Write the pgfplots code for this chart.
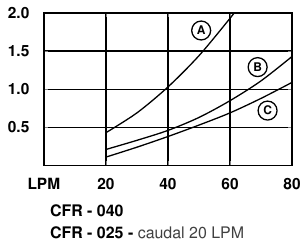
\documentclass[border=0pt]{standalone}
\usepackage[T1]{fontenc}
\usepackage{helvet}
\renewcommand{\familydefault}{\sfdefault}
\usepackage{pgfplots}
\pgfplotsset{compat=1.18}
\begin{document}
\begin{tikzpicture}
\path (-44pt,-76pt) rectangle (260pt,166pt);
\begin{axis}[
  scale only axis,
  width=249pt, height=153pt,
  xmin=0, xmax=80, ymin=0, ymax=2,
  xtick={0,20,40,60,80},
  xticklabels={LPM,20,40,60,80},
  ytick={0.5,1.0,1.5,2.0},
  yticklabels={0.5,1.0,1.5,2.0},
  grid=major,
  major grid style={black, line width=1.4pt},
  tick label style={font=\fontsize{15.5}{17}\selectfont\bfseries},
  xticklabel style={anchor=center, yshift=-19pt},
  yticklabel style={anchor=east, xshift=-11pt},
]
\addplot[black, line width=1.3pt, smooth] coordinates {
  (20,0.43) (30,0.69) (40,1.03) (50,1.44) (60,1.93) (62,2.04)};
\addplot[black, line width=1.3pt, smooth] coordinates {
  (20,0.21) (30,0.33) (40,0.46) (50,0.63) (60,0.85) (70,1.11) (80,1.43)};
\addplot[black, line width=1.3pt, smooth] coordinates {
  (20,0.11) (30,0.24) (40,0.38) (50,0.53) (60,0.69) (70,0.88) (80,1.09)};
\node[circle, draw, line width=1.3pt, minimum size=19pt, inner sep=0pt, fill=white, font=\fontsize{12}{13}\selectfont\bfseries] at (axis cs:50.7,1.77) {A};
\node[circle, draw, line width=1.3pt, minimum size=19pt, inner sep=0pt, fill=white, font=\fontsize{12}{13}\selectfont\bfseries] at (axis cs:68.9,1.29) {B};
\node[circle, draw, line width=1.3pt, minimum size=19pt, inner sep=0pt, fill=white, font=\fontsize{12}{13}\selectfont\bfseries] at (axis cs:72.1,0.72) {C};
\end{axis}
\draw[black, line width=1.4pt] (0pt,0pt) rectangle (249pt,153pt);
\node[anchor=base west, inner sep=0pt, font=\fontsize{16}{18}\selectfont] at (6pt,-51.3pt) {\bfseries CFR - 040};
\node[anchor=base west, inner sep=0pt, font=\fontsize{16}{18}\selectfont] at (6pt,-73.3pt) {\textbf{CFR - 025 -} \textcolor{black!75}{caudal 20 LPM}};
\end{tikzpicture}
\end{document}
